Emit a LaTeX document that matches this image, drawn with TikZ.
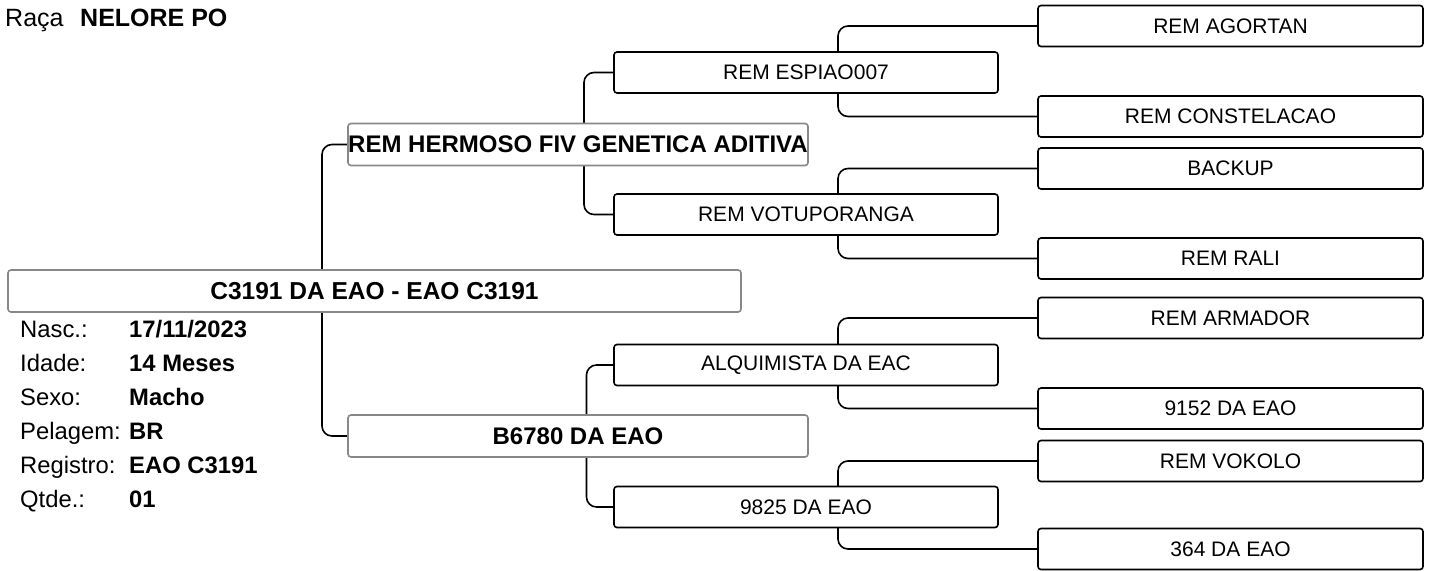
\documentclass[tikz,border=0pt]{standalone}
\usepackage{fontspec}
\setmainfont{Liberation Sans}
\usetikzlibrary{positioning,calc,backgrounds}
\definecolor{PedInk}{HTML}{000000}
\definecolor{PedGray}{HTML}{888888}

\begin{document}
\begin{tikzpicture}[
  x=1pt, y=-1pt,
  animal/.style={fill=white, draw=PedGray, line width=1.6pt, rounded corners=3pt,
                 font=\fontsize{24.5}{29}\selectfont\bfseries, text=PedInk,
                 minimum width=733pt, minimum height=42pt, inner sep=0pt},
  parent/.style={fill=white, draw=PedGray, line width=1.6pt, rounded corners=3pt,
                 font=\fontsize{24}{29}\selectfont\bfseries, text=PedInk,
                 minimum width=460pt, minimum height=42pt, inner sep=0pt},
  grand/.style={fill=white, draw=PedInk, line width=1.6pt, rounded corners=3pt,
                font=\fontsize{21}{25}\selectfont, text=PedInk,
                minimum width=384pt, minimum height=41pt, inner sep=0pt},
  ggrand/.style={fill=white, draw=PedInk, line width=1.6pt, rounded corners=3pt,
                 font=\fontsize{21}{25}\selectfont, text=PedInk,
                 minimum width=385pt, minimum height=41pt, inner sep=0pt},
  infokey/.style={anchor=base west, inner sep=0pt, font=\fontsize{23.8}{28}\selectfont},
  infoval/.style={anchor=base west, inner sep=0pt, font=\fontsize{23.8}{28}\selectfont\bfseries},
  link/.style={draw=PedInk, line width=1.6pt, rounded corners=10pt},
]
\useasboundingbox (0,0) rectangle (1431,570);

% --- Header ---
\node[infokey, font=\fontsize{25}{29}\selectfont] (racakey) at (5,27) {Raça};
\node[infoval, font=\fontsize{25}{29}\selectfont\bfseries] (racaval) at (80,27) {NELORE PO};

% --- Animal ---
\node[animal] (animal) at (374.5,291) {C3191 DA EAO - EAO C3191};

% Info rows
\foreach \k/\v/\yy [count=\i] in {%
  {Nasc.:}/{17/11/2023}/337, {Idade:}/{14 Meses}/371, {Sexo:}/{Macho}/405,
  {Pelagem:}/{BR}/439, {Registro:}/{EAO C3191}/473, {Qtde.:}/{01}/507} {
  \node[infokey] (key\i) at (20,\yy) {\k};
  \node[infoval] (val\i) at (129,\yy) {\v};
}

% --- Parents ---
\node[parent] (sire) at (578,144.5) {REM HERMOSO FIV GENETICA ADITIVA};
\node[parent] (dam) at (578,436) {B6780 DA EAO};

% --- Grandparents ---
\node[grand] (espiao) at (806,72.5) {REM ESPIAO007};
\node[grand] (votuporanga) at (806,214.5) {REM VOTUPORANGA};
\node[grand] (alquimista) at (806,365) {ALQUIMISTA DA EAC};
\node[grand] (n9825) at (806,507) {9825 DA EAO};

% --- Great-grandparents ---
\node[ggrand] (agortan) at (1230.5,26) {REM AGORTAN};
\node[ggrand] (constelacao) at (1230.5,116.5) {REM CONSTELACAO};
\node[ggrand] (backup) at (1230.5,168.5) {BACKUP};
\node[ggrand] (rali) at (1230.5,258.5) {REM RALI};
\node[ggrand] (armador) at (1230.5,318) {REM ARMADOR};
\node[ggrand] (n9152) at (1230.5,408.5) {9152 DA EAO};
\node[ggrand] (vokolo) at (1230.5,461) {REM VOKOLO};
\node[ggrand] (n364) at (1230.5,549) {364 DA EAO};

% Fork points
\coordinate (animalfork) at (322,291);
\coordinate (sirefork) at (584,144.5);
\coordinate (damfork) at (586.5,436);
\coordinate (espiaofork) at (838,72.5);
\coordinate (votuporangafork) at (838,214.5);
\coordinate (alquimistafork) at (838,365);
\coordinate (n9825fork) at (838,507);

% --- Connectors ---
\begin{scope}[on background layer]
  \fill[white] (0,0) rectangle (1431,570);
  \draw[link] (animalfork) |- (sire.west);
  \draw[link] (animalfork) |- (dam.west);
  \draw[link] (sirefork) |- (espiao.west);
  \draw[link] (sirefork) |- (votuporanga.west);
  \draw[link] (damfork) |- (alquimista.west);
  \draw[link] (damfork) |- (n9825.west);
  \draw[link] (espiaofork) |- (agortan.west);
  \draw[link] (espiaofork) |- (constelacao.west);
  \draw[link] (votuporangafork) |- (backup.west);
  \draw[link] (votuporangafork) |- (rali.west);
  \draw[link] (alquimistafork) |- (armador.west);
  \draw[link] (alquimistafork) |- (n9152.west);
  \draw[link] (n9825fork) |- (vokolo.west);
  \draw[link] (n9825fork) |- (n364.west);
\end{scope}

\end{tikzpicture}
\end{document}
